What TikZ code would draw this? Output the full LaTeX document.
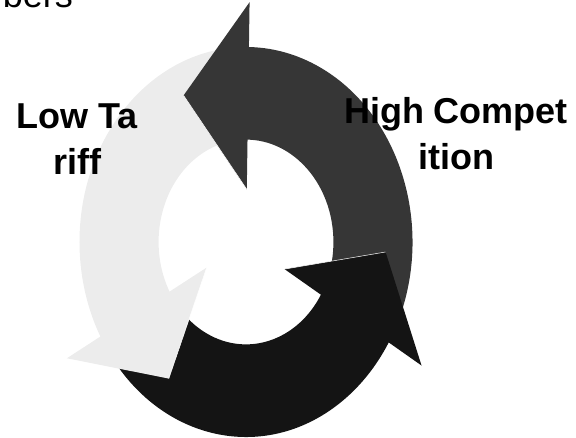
\documentclass[tikz,border=0pt]{standalone}
\usepackage{fontspec}
\setmainfont{Liberation Sans}
\definecolor{arrowlight}{HTML}{ECECEC}
\definecolor{arrowdark}{HTML}{363636}
\definecolor{arrowblack}{HTML}{141414}

\begin{document}
\begin{tikzpicture}[x=1pt,y=1pt,
  cyclelabel/.style={align=center,font=\bfseries\fontsize{36}{46}\selectfont,inner sep=0pt}]
\useasboundingbox (0,0) rectangle (576,437);
\node[anchor=base east,font=\fontsize{36}{44}\selectfont,inner sep=0pt] (topword) at (73,429.5) {bers};
\begin{scope}[shift={(246,195)},xscale=166.5,yscale=195]
% arrow bodies (both ends tucked under a head)
\foreach \a/\c in {89/arrowdark,209/arrowlight,329/arrowblack}
  \fill[\c] (\a-116:0.525) -- (\a-116:1) arc[start angle=\a-116,end angle=\a+4,radius=1]
    -- (\a+4:0.525) arc[start angle=\a+4,end angle=\a-116,radius=0.525] -- cycle;
% arrow heads
\foreach \a/\c in {89/arrowdark,209/arrowlight,329/arrowblack} {
  \fill[\c] (\a:0.27) -- (\a:1.23) -- (\a+27.5:0.84) -- cycle;
  \draw[white,line width=0.5pt] (\a:0.27) -- (\a+27.5:0.84);
}
\end{scope}
\node[cyclelabel,anchor=base] (tariff) at (77,262) {Low Ta\\riff};
\node[cyclelabel,anchor=base] (competition) at (456,267) {High Compet\\ition};
\end{tikzpicture}
\end{document}
